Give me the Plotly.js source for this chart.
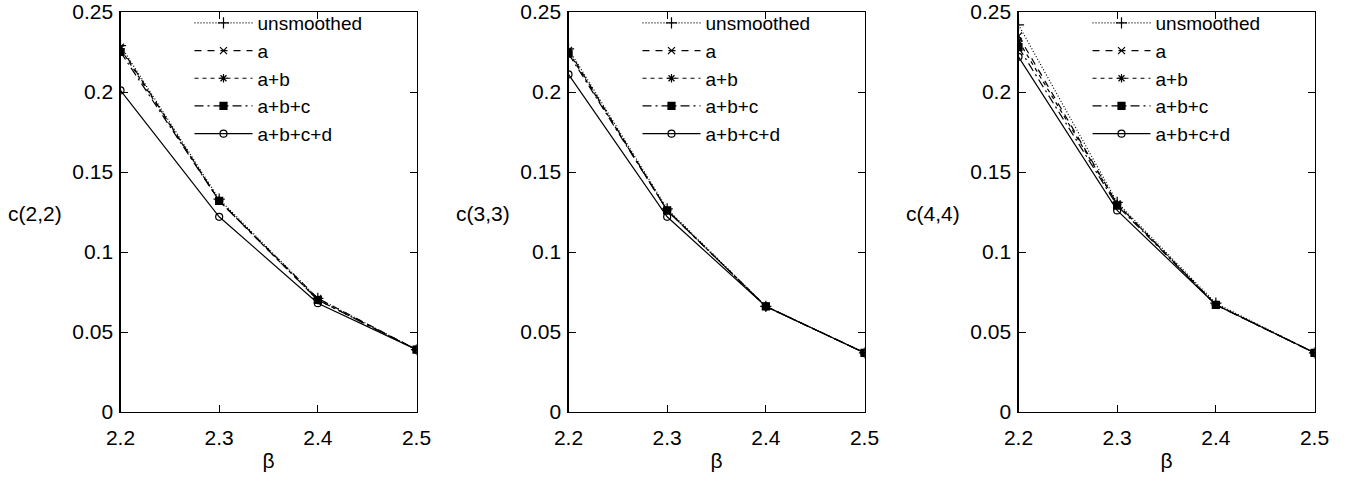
<!DOCTYPE html>
<html>
<head>
<meta charset="utf-8">
<script src="https://cdn.plot.ly/plotly-3.0.1.min.js"></script>
<style>html,body{margin:0;padding:0;background:#fff;}#chart{width:1353px;height:482px;}</style>
</head>
<body>
<div id="chart"></div>
<script>
const beta = [2.2, 2.3, 2.4, 2.5];
const seriesNames = ['unsmoothed', 'a', 'a+b', 'a+b+c', 'a+b+c+d'];
const yLabels = ['c(2,2)', 'c(3,3)', 'c(4,4)'];
const yTicks = [0, 0.05, 0.1, 0.15, 0.2, 0.25];
const yTickText = ['0', '0.05', '0.1', '0.15', '0.2', '0.25'];

// panel 1: c(2,2)
const c22_unsmoothed = [0.229, 0.133, 0.071, 0.039];
const c22_a          = [0.228, 0.132, 0.071, 0.039];
const c22_ab         = [0.227, 0.132, 0.070, 0.039];
const c22_abc        = [0.225, 0.132, 0.070, 0.039];
const c22_abcd       = [0.201, 0.122, 0.068, 0.039];
// panel 2: c(3,3)
const c33_unsmoothed = [0.227, 0.127, 0.066, 0.037];
const c33_a          = [0.226, 0.126, 0.066, 0.037];
const c33_ab         = [0.225, 0.126, 0.066, 0.037];
const c33_abc        = [0.224, 0.126, 0.066, 0.037];
const c33_abcd       = [0.211, 0.122, 0.066, 0.037];
// panel 3: c(4,4)
const c44_unsmoothed = [0.242, 0.131, 0.068, 0.037];
const c44_a          = [0.235, 0.130, 0.067, 0.037];
const c44_ab         = [0.232, 0.130, 0.067, 0.037];
const c44_abc        = [0.228, 0.129, 0.067, 0.037];
const c44_abcd       = [0.222, 0.126, 0.067, 0.037];

const panels = [
  [c22_unsmoothed, c22_a, c22_ab, c22_abc, c22_abcd],
  [c33_unsmoothed, c33_a, c33_ab, c33_abc, c33_abcd],
  [c44_unsmoothed, c44_a, c44_ab, c44_abc, c44_abcd]
];

const styles = [
  {dash: '1px,2px', symbol: 'cross-thin-open', size: 8},
  {dash: '7px,6px', symbol: 'x-thin-open', size: 7},
  {dash: '4px,4px', symbol: 'asterisk-open', size: 7},
  {dash: '9px,4px,2px,4px', symbol: 'square', size: 7},
  {dash: 'solid', symbol: 'circle-open', size: 7}
];

const FONT = 'Liberation Sans, Arial, sans-serif';
const traces = [];
panels.forEach((p, pi) => {
  p.forEach((vals, si) => {
    const st = styles[si];
    traces.push({
      x: beta, y: vals, name: seriesNames[si], type: 'scatter', mode: 'lines+markers',
      xaxis: pi === 0 ? 'x' : 'x' + (pi + 1),
      yaxis: pi === 0 ? 'y' : 'y' + (pi + 1),
      legend: pi === 0 ? 'legend' : 'legend' + (pi + 1),
      line: {color: '#000', width: 1.2, dash: st.dash},
      marker: {color: '#000', symbol: st.symbol, size: st.size, line: {color: '#000', width: 1.2}}
    });
  });
});

const W = 1353;
const xDomains = [[120.5 / W, 416.5 / W], [568.5 / W, 864.5 / W], [1018.5 / W, 1314.5 / W]];
const layout = {
  width: 1353, height: 482,
  margin: {l: 0, r: 0, t: 12, b: 70},
  paper_bgcolor: '#fff', plot_bgcolor: '#fff',
  font: {family: FONT, size: 21, color: '#000'},
  annotations: []
};
xDomains.forEach((d, i) => {
  const sx = i === 0 ? '' : String(i + 1);
  layout['xaxis' + sx] = {
    domain: d, range: [2.2, 2.5], anchor: 'y' + sx,
    tickvals: beta, ticktext: ['2.2', '2.3', '2.4', '2.5'],
    ticks: 'inside', ticklen: 7, tickcolor: '#000', tickwidth: 1,
    showline: true, linecolor: '#000', linewidth: 1.2, mirror: 'ticks',
    showgrid: false, zeroline: false, automargin: false,
    tickfont: {family: FONT, size: 21}, ticklabelstandoff: 7,
    title: {text: 'β', font: {family: FONT, size: 21}, standoff: 4}
  };
  layout['yaxis' + sx] = {
    domain: [0, 1], range: [0, 0.25], anchor: 'x' + sx,
    tickvals: yTicks, ticktext: yTickText,
    ticks: 'inside', ticklen: 7, tickcolor: '#000', tickwidth: 1,
    showline: true, linecolor: '#000', linewidth: 1.2, mirror: 'ticks',
    showgrid: false, zeroline: false, automargin: false,
    tickfont: {family: FONT, size: 21}, ticklabelstandoff: 2
  };
  layout[i === 0 ? 'legend' : 'legend' + (i + 1)] = {
    x: (d[0] * W + 69) / W, y: 1.02, xref: 'paper', yref: 'paper',
    xanchor: 'left', yanchor: 'top',
    bgcolor: 'rgba(0,0,0,0)', borderwidth: 0,
    font: {family: FONT, size: 19, color: '#000'},
    itemwidth: 58, tracegroupgap: 0
  };
  layout.annotations.push({
    text: yLabels[i], xref: 'paper', yref: 'paper',
    x: (d[0] * W - 86) / W, y: 0.497, xanchor: 'center', yanchor: 'middle',
    showarrow: false, font: {family: FONT, size: 21, color: '#000'}
  });
});

Plotly.newPlot('chart', traces, layout, {staticPlot: true, displayModeBar: false});
</script>
</body>
</html>
